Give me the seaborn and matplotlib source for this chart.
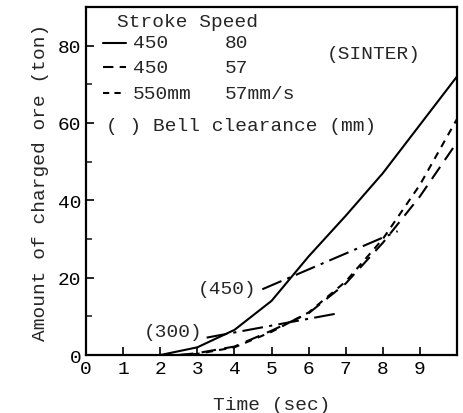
import matplotlib
matplotlib.use('Agg')
import matplotlib.pyplot as plt
import seaborn as sns
import numpy as np

# Data
time_solid = [2, 3, 4, 5, 6, 7, 8, 9, 10]
ore_solid = [0, 2, 6.5, 14, 25.5, 36, 47, 59.5, 72]          # 450 mm, 80 mm/s

time_dash = [2.5, 3, 4, 5, 6, 7, 8, 9, 10]
ore_dash = [0, 0.5, 2.2, 6.3, 10.8, 18.5, 29, 41, 55]         # 450 mm, 57 mm/s

time_short = [2.5, 3, 4, 5, 6, 7, 8, 9, 10]
ore_short = [0, 0.3, 2, 6, 11, 19, 30, 44, 61]                # 550 mm, 57 mm/s

# Bell clearance reference lines
time_300 = [3.25, 6.8]
ore_300 = [4.5, 10.8]
time_450 = [4.75, 8.4]
ore_450 = [17, 32]

x_ticks = list(range(0, 11))
x_ticklabels = [str(i) for i in range(0, 10)] + ['']
y_ticks = [0, 20, 40, 60, 80]

sns.set_style('ticks')
plt.rcParams['font.family'] = ['Liberation Mono', 'DejaVu Sans']

fig, ax = plt.subplots(figsize=(4.63, 4.14), dpi=100)
fig.subplots_adjust(left=0.186, right=0.987, top=0.981, bottom=0.14)

lw = 1.5
sns.lineplot(x=time_solid, y=ore_solid, ax=ax, color='black', lw=lw)
sns.lineplot(x=time_dash, y=ore_dash, ax=ax, color='black', lw=lw, linestyle=(0, (7, 4)))
sns.lineplot(x=time_short, y=ore_short, ax=ax, color='black', lw=lw, linestyle=(0, (3.5, 3)))
sns.lineplot(x=time_300, y=ore_300, ax=ax, color='black', lw=lw, linestyle=(0, (10, 3, 1.5, 3)))
sns.lineplot(x=time_450, y=ore_450, ax=ax, color='black', lw=lw, linestyle=(0, (10, 3, 1.5, 3)))

ax.set_xlim(0, 10)
ax.set_ylim(0, 90)
ax.set_xticks(x_ticks)
ax.set_xticklabels(x_ticklabels)
ax.set_yticks(y_ticks)
ax.set_yticks([10, 30, 50, 70], minor=True)
ax.tick_params(direction='in', length=6, width=1.2, labelsize=14, colors='black')
ax.tick_params(which='minor', direction='in', length=4, width=1.2)
for s in ax.spines.values():
    s.set_visible(True)
    s.set_linewidth(1.6)
    s.set_color('black')

ax.set_xlabel('Time (sec)', fontsize=14, labelpad=14)
ax.set_ylabel('Amount of charged ore (ton)', fontsize=14, labelpad=6)

# Hand-drawn legend block
fs = 14
tr = ax.transAxes
ax.text(0.082, 0.957, 'Stroke Speed', transform=tr, fontsize=fs, va='center')
rows = [('450', '80', '-', 0.897),
        ('450', '57', (0, (5, 3)), 0.826),
        ('550mm', '57mm/s', (0, (3, 2.5)), 0.752)]
for stroke, speed, ls, yy in rows:
    ax.plot([0.046, 0.108], [yy, yy], transform=tr, color='black', lw=lw, linestyle=ls)
    ax.text(0.126, yy, stroke, transform=tr, fontsize=fs, va='center')
    ax.text(0.374, yy, speed, transform=tr, fontsize=fs, va='center')
ax.text(0.054, 0.66, '( ) Bell clearance (mm)', transform=tr, fontsize=fs, va='center')
ax.text(0.65, 0.865, '(SINTER)', transform=tr, fontsize=fs, va='center')

ax.text(3.0, 17.3, '(450)', fontsize=fs, va='center')
ax.text(1.55, 6.2, '(300)', fontsize=fs, va='center')

fig.savefig('out.png', dpi=100)
